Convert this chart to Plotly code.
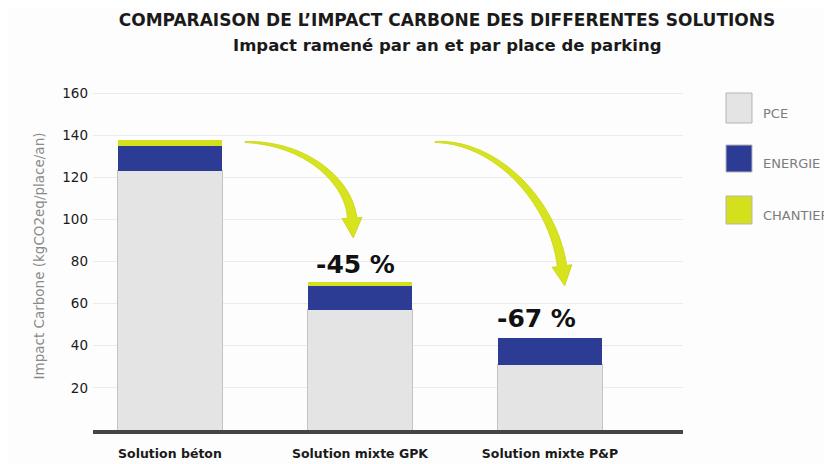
import plotly.graph_objects as go

# ---------------- data ----------------
categories = ["Solution béton", "Solution mixte GPK", "Solution mixte P&P"]
pce = [123, 57, 31]
energie = [12, 11.5, 12.5]
chantier = [2.5, 1.8, 0]
reduction_labels = ["-45 %", "-67 %"]
y_ticks = [20, 40, 60, 80, 100, 120, 140, 160]
series_names = ["PCE", "ENERGIE", "CHANTIER"]
series_colors = ["#e4e4e4", "#2c3b94", "#d5e01d"]

# ---------------- layout geometry ----------------
# the page body has an 8px margin, so figure pixels = screen pixels - 8
OFF = 8
W, H = 832 - OFF, 464 - OFF
L, T = 93 - OFF, 82 - OFF
PLOT_R, PLOT_B = 683 - OFF, 430 - OFF
R, B = W - PLOT_R, H - PLOT_B
PW, PH = W - L - R, H - T - B


def px(x, y):
    """screen pixel -> paper coordinates"""
    return (x - OFF - L) / PW, (PLOT_B - (y - OFF)) / PH


def bez(p, t):
    (x0, y0), (x1, y1), (x2, y2), (x3, y3) = p
    u = 1 - t
    x = u**3 * x0 + 3 * u * u * t * x1 + 3 * u * t * t * x2 + t**3 * x3
    y = u**3 * y0 + 3 * u * u * t * y1 + 3 * u * t * t * y2 + t**3 * y3
    dx = 3 * u * u * (x1 - x0) + 6 * u * t * (x2 - x1) + 3 * t * t * (x3 - x2)
    dy = 3 * u * u * (y1 - y0) + 6 * u * t * (y2 - y1) + 3 * t * t * (y3 - y2)
    n = (dx * dx + dy * dy) ** 0.5
    return x, y, dx / n, dy / n


def arrow_path(ctrl, w0=1.0, w1=9.5, head_w=10, head_len=20):
    left, right = [], []
    N = 40
    for i in range(N + 1):
        t = i / N
        x, y, tx, ty = bez(ctrl, t)
        nx, ny = -ty, tx
        hw = (w0 + (w1 - w0) * t ** 0.8) / 2
        left.append((x + nx * hw, y + ny * hw))
        right.append((x - nx * hw, y - ny * hw))
    x, y, tx, ty = bez(ctrl, 1.0)
    nx, ny = -ty, tx
    wing_l = (x + nx * head_w, y + ny * head_w)
    wing_r = (x - nx * head_w, y - ny * head_w)
    tip = (x + tx * head_len, y + ty * head_len)
    poly = left + [wing_l, tip, wing_r] + right[::-1]
    pts = [px(a, b) for a, b in poly]
    return "M " + " L ".join(f"{a:.5f},{b:.5f}" for a, b in pts) + " Z"


fig = go.Figure()
for name, vals, col in zip(series_names, [pce, energie, chantier], series_colors):
    fig.add_trace(go.Bar(
        name=name, x=categories, y=vals, width=0.55,
        marker=dict(color=col,
                    line=dict(color="#c4c4c4" if name == "PCE" else col,
                              width=1 if name == "PCE" else 0)),
        showlegend=False,
    ))

totals = [a + b + c for a, b, c in zip(pce, energie, chantier)]

shapes = []
# curved arrows
arrow_ctrls = [
    [(245, 142), (310, 143), (350, 185), (352, 218)],
    [(435, 142), (495, 141), (553, 200), (562, 266)],
]
for c in arrow_ctrls:
    shapes.append(dict(type="path", xref="paper", yref="paper",
                       path=arrow_path(c), fillcolor="#d7e31c",
                       line=dict(color="#c9d419", width=0.8)))

# legend squares
legend_y = [(93, 123), (145, 172), (196, 224)]
annotations = []
for (ya, yb), name, col in zip(legend_y, series_names, series_colors):
    x0, y0 = px(726, yb)
    x1, y1 = px(752, ya)
    shapes.append(dict(type="rect", xref="paper", yref="paper",
                       x0=x0, y0=y0, x1=x1, y1=y1, fillcolor=col,
                       line=dict(color="#b5b5b5", width=1)))
    tx, ty = px(761, (ya + yb) / 2 + 5)
    annotations.append(dict(xref="paper", yref="paper", x=tx, y=ty,
                            text=name, showarrow=False, xanchor="left",
                            yanchor="middle",
                            font=dict(family="DejaVu Sans", size=13,
                                      color="#7c7c7c")))

# reduction labels
for i, (lab, xs, ys) in enumerate(zip(reduction_labels, [-4, -13], [1, 3])):
    annotations.append(dict(x=categories[i + 1], y=totals[i + 1], xref="x",
                            yref="y", text=f"<b>{lab}</b>", showarrow=False,
                            yanchor="bottom", xshift=xs, yshift=ys,
                            font=dict(family="DejaVu Sans", size=25,
                                      color="#111111")))

# subtitle
sx, sy = px(447, 45)
annotations.append(dict(xref="paper", yref="paper", x=sx, y=sy,
                        text="<b>Impact ramené par an et par place de parking</b>",
                        showarrow=False, xanchor="center", yanchor="middle",
                        font=dict(family="DejaVu Sans", size=16.5,
                                  color="#1a1a1a")))

fig.update_layout(
    width=W, height=H,
    margin=dict(l=L, r=R, t=T, b=B, autoexpand=False),
    barmode="stack",
    paper_bgcolor="#fdfdfd",
    plot_bgcolor="#fdfdfd",
    title=dict(text="<b>COMPARAISON DE L’IMPACT CARBONE DES DIFFERENTES SOLUTIONS</b>",
               x=(447 - OFF) / W, xanchor="center", y=1 - (20 - OFF) / H,
               yanchor="middle",
               font=dict(family="DejaVu Sans", size=17, color="#1a1a1a")),
    xaxis=dict(range=[-0.405, 2.7], showgrid=False, showline=True,
               linecolor="#454545", linewidth=4, ticks="",
               tickfont=dict(family="DejaVu Sans", size=12.5, color="#1a1a1a"),
               ticklabelstandoff=9, tickprefix="<b>", ticksuffix="</b>"),
    yaxis=dict(range=[0, PH / 2.10625], tickvals=y_ticks,
               showgrid=True, gridcolor="#ebebeb", gridwidth=1,
               zeroline=False, showline=False, ticks="",
               tickprefix="<b>", ticksuffix="</b>",
               tickfont=dict(family="DejaVu Sans", size=13.5, color="#1a1a1a"),
               ticklabelstandoff=4,
               title=dict(text="Impact Carbone (kgCO2eq/place/an)", standoff=14,
                          font=dict(family="DejaVu Sans", size=13.5,
                                    color="#8a8a8a"))),
    shapes=shapes,
    annotations=annotations,
)

fig.write_html("out.html")
